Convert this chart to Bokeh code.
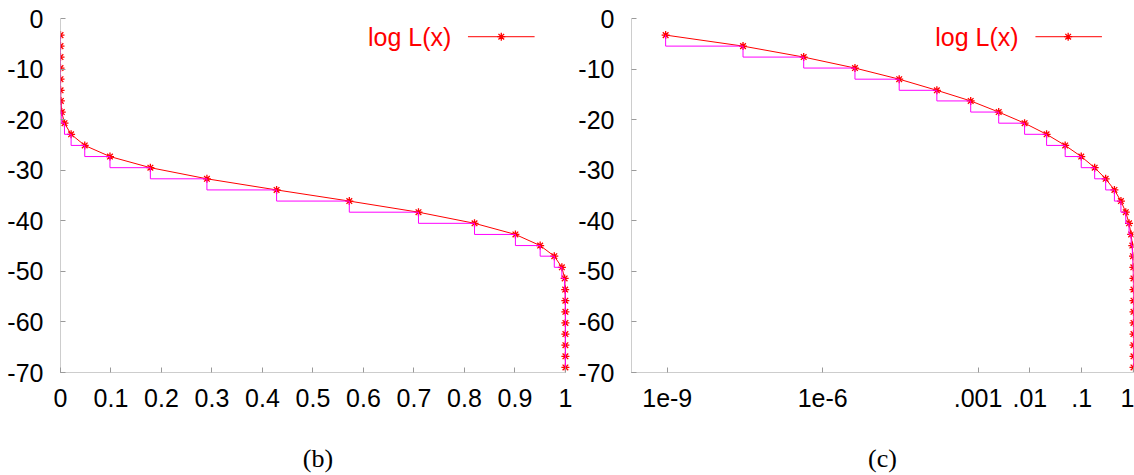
from bokeh.plotting import figure
from bokeh.layouts import row
from bokeh.models import FixedTicker, Range1d, Label
from bokeh.embed import file_html
from bokeh.resources import INLINE

# ---- data ----
log_L = [-3.28, -5.46, -7.63, -9.80, -12.0, -14.2, -16.3, -18.5, -20.7, -22.9,
         -25.1, -27.3, -29.5, -31.7, -33.9, -36.1, -38.3, -40.5, -42.7, -44.9,
         -47.0, -49.2, -51.4, -53.6, -55.8, -58.0, -60.2, -62.4, -64.6, -66.8, -69.0]
x_vals = [9.3e-10, 2.9e-8, 4.3e-7, 4.2e-6, 3.0e-5, 1.6e-4, 7.2e-4, 2.5e-3, 7.9e-3, 0.021,
          0.048, 0.098, 0.178, 0.290, 0.428, 0.572, 0.709, 0.820, 0.901, 0.950,
          0.978, 0.993, 0.9985, 0.9996, 0.99992, 0.99998, 0.999995, 0.999999, 1.0, 1.0, 1.0]

y_ticks = [0, -10, -20, -30, -40, -50, -60, -70]
y_tick_labels = ["0", "-10", "-20", "-30", "-40", "-50", "-60", "-70"]
lin_x_ticks = [0, 0.1, 0.2, 0.3, 0.4, 0.5, 0.6, 0.7, 0.8, 0.9, 1]
lin_x_labels = ["0", "0.1", "0.2", "0.3", "0.4", "0.5", "0.6", "0.7", "0.8", "0.9", "1"]
log_x_ticks = [1e-9, 1e-6, 1e-3, 1e-2, 1e-1, 1]
log_x_labels = ["1e-9", "1e-6", ".001", ".01", ".1", "1"]
series_name = "log L(x)"
captions = ["(b)", "(c)"]

SANS = "Liberation Sans"
SERIF = "Liberation Serif"
AX_COL = "#9a9a9a"


def style(p, xticks, xlabels, caption):
    p.xgrid.visible = False
    p.ygrid.visible = False
    p.outline_line_color = None
    p.background_fill_color = "white"
    p.border_fill_color = "white"
    for ax in (p.xaxis[0], p.yaxis[0]):
        ax.axis_line_color = AX_COL
        ax.axis_line_dash = "1 1"
        ax.axis_line_width = 1
        ax.major_tick_line_color = AX_COL
        ax.major_tick_in = 5
        ax.major_tick_out = 0
        ax.minor_tick_line_color = None
        ax.major_label_text_font = SANS
        ax.major_label_text_font_size = "25px"
        ax.major_label_text_color = "black"
    p.yaxis.ticker = FixedTicker(ticks=y_ticks)
    p.yaxis.major_label_overrides = dict(zip(y_ticks, y_tick_labels))
    p.yaxis.major_label_standoff = 17
    p.xaxis.ticker = FixedTicker(ticks=xticks)
    p.xaxis.major_label_overrides = dict(zip(xticks, xlabels))
    p.xaxis.major_label_standoff = 16
    p.xaxis.axis_label = caption
    p.xaxis.axis_label_text_font = SERIF
    p.xaxis.axis_label_text_font_style = "normal"
    p.xaxis.axis_label_text_font_size = "26px"
    p.xaxis.axis_label_text_color = "black"
    p.xaxis.axis_label_standoff = 34


def draw(p, leg_text_x, leg_x0, leg_x1, leg_xm, leg_y):
    p.line(x_vals, log_L, line_color="red", line_width=1)
    p.scatter(x_vals, log_L, marker="asterisk", size=8, line_color="red", line_width=1.3)
    p.step(x_vals, log_L, mode="before", line_color="#ff00ff", line_width=1)
    # legend (text on the left, sample on the right)
    p.add_layout(Label(x=leg_text_x, y=leg_y, text=series_name, text_align="right",
                       text_baseline="middle", text_color="red",
                       text_font=SANS, text_font_size="25px"))
    p.line([leg_x0, leg_x1], [leg_y, leg_y], line_color="red", line_width=1)
    p.scatter([leg_xm], [leg_y], marker="asterisk", size=8, line_color="red", line_width=1.3)


# ---- panel (b): linear x ----
p1 = figure(width=575, height=475, x_range=Range1d(0, 1.02), y_range=Range1d(-70, 0),
            output_backend="svg", toolbar_location=None,
            min_border_left=60, min_border_right=0, min_border_top=18, min_border_bottom=103)
style(p1, lin_x_ticks, lin_x_labels, captions[0])
p1.xaxis.bounds = (0, 1)
draw(p1, 0.774, 0.807, 0.939, 0.873, -3.6)

# ---- panel (c): log x ----
p2 = figure(width=559, height=475, x_axis_type="log", x_range=Range1d(2.04e-10, 1.0),
            y_range=Range1d(-70, 0), output_backend="svg", toolbar_location=None,
            min_border_left=54, min_border_right=1, min_border_top=18, min_border_bottom=103)
style(p2, log_x_ticks, log_x_labels, captions[1])
draw(p2, 6.05e-3, 0.0128, 0.246, 0.0548, -3.6)

layout = row(p1, p2)
open("out.html", "w").write(file_html(layout, INLINE))
